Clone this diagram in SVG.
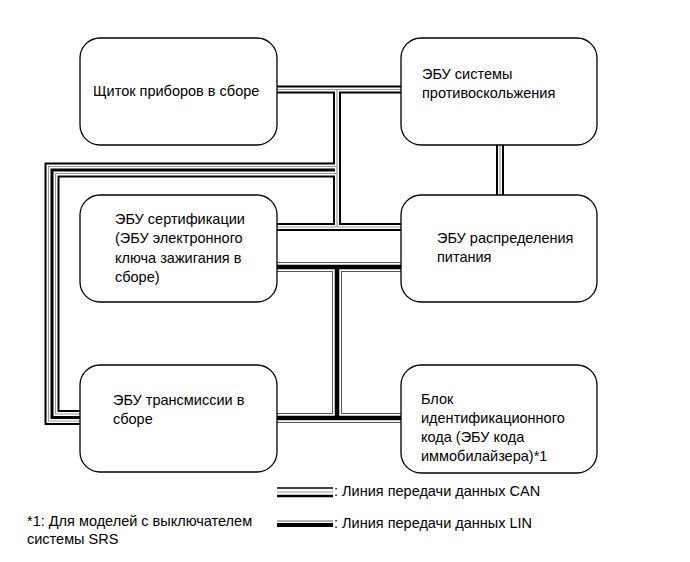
<svg xmlns="http://www.w3.org/2000/svg" xmlns:xlink="http://www.w3.org/1999/xlink" width="690" height="562" viewBox="0 0 690 562">
<style>
.box{fill:#fff;stroke:#000;stroke-width:1.3}
text{font-family:"Liberation Sans",Arial,sans-serif;font-size:14.5px;fill:#000}
.ce{fill:none;stroke:#000;stroke-width:8;stroke-linejoin:miter}
.cw{fill:none;stroke:#fff;stroke-width:4;stroke-linejoin:miter}
.cg{fill:none;stroke:#999;stroke-width:1.2;stroke-linejoin:miter}
.le{fill:none;stroke:#555;stroke-width:10}
.lw{fill:none;stroke:#fff;stroke-width:8}
.lc{fill:none;stroke:#000;stroke-width:4.5}
</style>
<defs>
<path id="can1" d="M277,89.5 H401"/>
<path id="can2" d="M337,89.5 V227"/>
<path id="can3" d="M277,227 H401"/>
<path id="can4" d="M500,145 V195"/>
<path id="can5" d="M337,166.5 H48.5 V421 H80"/>
<path id="can6" d="M337,173.5 H55.5 V414 H80"/>
<path id="lin1" d="M277,267 H401"/>
<path id="lin2" d="M337,267 V418"/>
<path id="lin3" d="M277,418 H401"/>
</defs>
<g id="connectors">
<use xlink:href="#can1" class="ce"/><use xlink:href="#can2" class="ce"/><use xlink:href="#can3" class="ce"/><use xlink:href="#can4" class="ce"/><use xlink:href="#can5" class="ce"/><use xlink:href="#can6" class="ce"/>
<use xlink:href="#can1" class="cw"/><use xlink:href="#can2" class="cw"/><use xlink:href="#can3" class="cw"/><use xlink:href="#can4" class="cw"/><use xlink:href="#can5" class="cw"/><use xlink:href="#can6" class="cw"/>
<use xlink:href="#can1" class="cg"/><use xlink:href="#can2" class="cg"/><use xlink:href="#can3" class="cg"/><use xlink:href="#can4" class="cg"/><use xlink:href="#can5" class="cg"/><use xlink:href="#can6" class="cg"/>
<use xlink:href="#lin1" class="le"/><use xlink:href="#lin2" class="le"/><use xlink:href="#lin3" class="le"/>
<use xlink:href="#lin1" class="lw"/><use xlink:href="#lin2" class="lw"/><use xlink:href="#lin3" class="lw"/>
<use xlink:href="#lin1" class="lc"/><use xlink:href="#lin2" class="lc"/><use xlink:href="#lin3" class="lc"/>
</g>
<g id="n1"><rect class="box" x="80" y="38" width="197" height="107" rx="20"/><text x="93" y="96">Щиток приборов в сборе</text></g>
<g id="n2"><rect class="box" x="401" y="38" width="196" height="107" rx="20"/><text x="422" y="79">ЭБУ системы</text><text x="422" y="98">противоскольжения</text></g>
<g id="n3"><rect class="box" x="80" y="195" width="197" height="107" rx="20"/><text x="115" y="224">ЭБУ сертификации</text><text x="115" y="243">(ЭБУ электронного</text><text x="115" y="263">ключа зажигания в</text><text x="115" y="282">сборе)</text></g>
<g id="n4"><rect class="box" x="401" y="195" width="196" height="107" rx="20"/><text x="437" y="243">ЭБУ распределения</text><text x="437" y="262">питания</text></g>
<g id="n5"><rect class="box" x="80" y="365" width="197" height="107" rx="20"/><text x="113" y="405">ЭБУ трансмиссии в</text><text x="113" y="424">сборе</text></g>
<g id="n6"><rect class="box" x="401" y="365" width="196" height="108" rx="20"/><text x="421" y="404">Блок</text><text x="421" y="423">идентификационного</text><text x="421" y="442">кода (ЭБУ кода</text><text x="421" y="461">иммобилайзера)*1</text></g>
<g id="legend">
<line x1="277" y1="488" x2="333" y2="488" stroke="#000" stroke-width="1.5"/>
<line x1="277" y1="492" x2="333" y2="492" stroke="#999" stroke-width="1.2"/>
<line x1="277" y1="496" x2="333" y2="496" stroke="#000" stroke-width="2.5"/>
<text x="334" y="496">: Линия передачи данных CAN</text>
<line x1="277" y1="521" x2="333" y2="521" stroke="#999" stroke-width="1.5"/>
<line x1="277" y1="525" x2="333" y2="525" stroke="#000" stroke-width="4"/>
<text x="334" y="528">: Линия передачи данных LIN</text>
</g>
<g id="note"><text x="27" y="526">*1: Для моделей с выключателем</text><text x="27" y="544">системы SRS</text></g>
</svg>
